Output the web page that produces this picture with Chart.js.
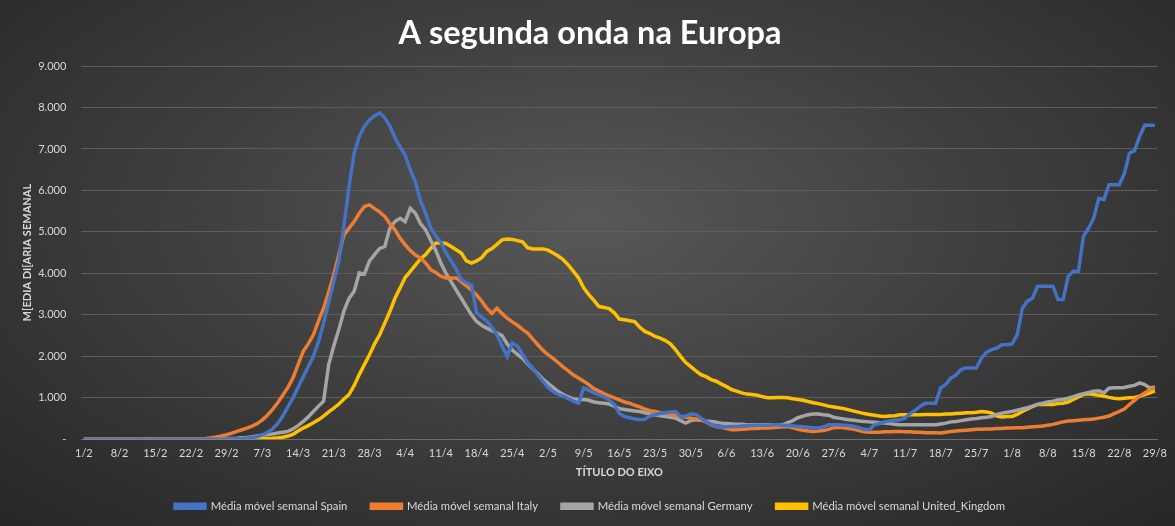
<!DOCTYPE html>
<html>
<head>
<meta charset="utf-8">
<script src="https://cdn.jsdelivr.net/npm/chart.js@4"></script>
<style>
  html, body { margin: 0; padding: 0; }
  body {
    width: 1175px; height: 526px; overflow: hidden;
    background: radial-gradient(ellipse 75% 85% at 50% 42%, #585858 0%, #3f3f3f 45%, #242424 100%);
  }
  #wrap { position: relative; width: 1175px; height: 526px; }
</style>
</head>
<body>
<div id="wrap"><canvas id="chart" width="1175" height="526"></canvas></div>
<script>
// months of 2020 shown on the axis: [month, last day shown]
const monthDays = [[2, 29], [3, 31], [4, 30], [5, 31], [6, 30], [7, 31], [8, 29]];

const seriesNames = [
    'Média móvel semanal Spain',
    'Média móvel semanal Italy',
    'Média móvel semanal Germany',
    'Média móvel semanal United_Kingdom'
];

const seriesColors = ['#4472C4', '#ED7D31', '#A5A5A5', '#FFC000'];

// one row per week, starting 1/2
const spain = [
    0, 0, 0, 0, 0, 0, 0,
    0, 0, 0, 0, 0, 0, 0,
    0, 0, 0, 0, 0, 0, 0,
    0, 0, 0, 1, 2, 3, 4,
    6, 10, 15, 20, 30, 45, 60,
    110, 170, 250, 380, 560, 780, 1000,
    1250, 1500, 1750, 2000, 2350, 2800, 3300,
    3800, 4300, 5150, 6100, 6900, 7300, 7550,
    7700, 7800, 7870, 7750, 7550, 7270, 7050,
    6850, 6500, 6200, 5750, 5450, 5100, 4900,
    4750, 4500, 4300, 4100, 3850, 3780, 3720,
    3050, 2950, 2850, 2700, 2520, 2250, 2000,
    2320, 2250, 2050, 1850, 1720, 1550, 1400,
    1250, 1150, 1080, 1040, 980, 920, 870,
    1240, 1180, 1120, 1080, 1020, 950, 840,
    620, 550, 520, 490, 470, 480, 560,
    600, 620, 640, 660, 670, 550, 560,
    610, 600, 510, 430, 360, 320, 290,
    300, 310, 310, 320, 330, 330, 340,
    340, 340, 350, 350, 340, 330, 320,
    310, 300, 290, 280, 270, 300, 350,
    350, 350, 340, 330, 310, 280, 240,
    230, 350, 380, 420, 440, 460, 470,
    510, 620, 700, 800, 870, 870, 870,
    1240, 1320, 1480, 1550, 1680, 1720, 1720,
    1720, 1960, 2100, 2160, 2200, 2280, 2280,
    2300, 2520, 3160, 3330, 3400, 3690, 3690,
    3690, 3690, 3370, 3370, 3930, 4050, 4050,
    4900, 5090, 5330, 5810, 5780, 6140, 6140,
    6140, 6400, 6900, 6960, 7300, 7570, 7570,
    7570
];

const italy = [
    0, 0, 0, 0, 0, 0, 0,
    0, 0, 0, 0, 0, 0, 0,
    0, 0, 0, 0, 0, 0, 0,
    2, 5, 10, 20, 35, 55, 80,
    110, 150, 190, 230, 270, 320, 380,
    470, 580, 720, 880, 1060, 1250, 1480,
    1800, 2120, 2300, 2520, 2850, 3160, 3550,
    3970, 4450, 4930, 5090, 5250, 5450, 5610,
    5650, 5560, 5480, 5370, 5200, 5050, 4850,
    4690, 4550, 4440, 4370, 4250, 4090, 4020,
    3930, 3890, 3890, 3890, 3800, 3700, 3600,
    3480, 3330, 3160, 3040, 3160, 3030, 2920,
    2830, 2750, 2650, 2560, 2420, 2280, 2150,
    2040, 1950, 1850, 1740, 1650, 1550, 1480,
    1400, 1320, 1220, 1160, 1100, 1050, 1000,
    950, 900, 870, 820, 780, 730, 690,
    670, 640, 620, 600, 580, 550, 530,
    510, 490, 470, 420, 350, 310, 290,
    260, 230, 230, 240, 250, 260, 260,
    270, 270, 280, 290, 300, 310, 280,
    240, 220, 200, 190, 200, 210, 240,
    280, 290, 280, 260, 240, 210, 180,
    170, 170, 170, 180, 180, 190, 190,
    180, 180, 170, 170, 160, 160, 160,
    150, 170, 190, 200, 210, 220, 230,
    240, 240, 250, 250, 260, 260, 270,
    270, 280, 280, 290, 300, 310, 320,
    340, 360, 390, 420, 440, 450, 460,
    470, 480, 490, 510, 530, 560, 620,
    670, 730, 840, 940, 1040, 1120, 1200,
    1240
];

const germany = [
    0, 0, 0, 0, 0, 0, 0,
    0, 0, 0, 0, 0, 0, 0,
    0, 0, 0, 0, 0, 0, 0,
    0, 0, 0, 0, 2, 5, 10,
    15, 20, 25, 35, 45, 60, 80,
    100, 115, 130, 150, 170, 190, 250,
    330, 430, 540, 670, 800, 920, 1800,
    2250, 2650, 3100, 3400, 3570, 4010, 3980,
    4300, 4450, 4600, 4650, 5090, 5250, 5330,
    5250, 5570, 5450, 5200, 5050, 4800, 4550,
    4250, 4000, 3800, 3600, 3400, 3200, 3000,
    2840, 2750, 2680, 2620, 2560, 2500, 2300,
    2150, 2050, 1950, 1820, 1700, 1580, 1450,
    1350, 1250, 1150, 1080, 1020, 970, 960,
    960, 940, 900, 880, 870, 850, 800,
    740, 720, 700, 680, 670, 640, 610,
    590, 570, 550, 530, 510, 450, 390,
    450, 470, 460, 440, 430, 410, 390,
    380, 370, 360, 360, 350, 350, 350,
    350, 350, 350, 350, 350, 400, 450,
    520, 560, 590, 610, 610, 590, 580,
    530, 510, 490, 470, 460, 440, 430,
    420, 410, 400, 390, 380, 360, 350,
    350, 350, 350, 350, 350, 350, 350,
    370, 390, 420, 430, 450, 470, 490,
    500, 520, 530, 550, 600, 630, 650,
    670, 700, 730, 760, 800, 840, 870,
    900, 920, 950, 960, 990, 1030, 1070,
    1100, 1130, 1160, 1170, 1120, 1230, 1240,
    1240, 1250, 1280, 1300, 1360, 1320, 1240,
    1260
];

const unitedKingdom = [
    0, 0, 0, 0, 0, 0, 0,
    0, 0, 0, 0, 0, 0, 0,
    0, 0, 0, 0, 0, 0, 0,
    0, 0, 0, 0, 0, 0, 0,
    0, 0, 1, 2, 3, 5, 8,
    12, 18, 25, 35, 50, 80, 120,
    200, 270, 330, 400, 470, 560, 660,
    750, 850, 970, 1080, 1300, 1560, 1800,
    2040, 2300, 2520, 2800, 3080, 3400, 3650,
    3900, 4050, 4200, 4350, 4450, 4600, 4730,
    4740, 4720, 4650, 4570, 4490, 4300, 4250,
    4300, 4380, 4530, 4600, 4700, 4810, 4830,
    4820, 4790, 4760, 4620, 4590, 4590, 4590,
    4560, 4490, 4420, 4330, 4200, 4050, 3890,
    3650, 3490, 3350, 3200, 3180, 3150, 3050,
    2900, 2880, 2860, 2840, 2700, 2600, 2550,
    2480, 2440, 2380, 2300, 2160, 2000, 1850,
    1750, 1650, 1560, 1510, 1440, 1400, 1330,
    1270, 1200, 1160, 1120, 1090, 1080, 1060,
    1030, 1000, 1000, 1010, 1010, 1000, 980,
    960, 940, 910, 880, 860, 830, 800,
    780, 760, 740, 710, 680, 650, 620,
    600, 580, 560, 550, 560, 570, 590,
    590, 590, 590, 590, 600, 600, 600,
    600, 610, 610, 620, 630, 640, 640,
    650, 670, 660, 630, 560, 540, 550,
    550, 600, 670, 730, 790, 840, 840,
    840, 840, 860, 870, 900, 960, 1020,
    1080, 1100, 1080, 1060, 1040, 1010, 990,
    980, 990, 1000, 1010, 1040, 1080, 1120,
    1170
];

const yTickStep = 1000;
const yMax = 9000;

// build day labels "d/m"
let categories = [];
monthDays.forEach(function (m) {
    for (let d = 1; d <= m[1]; d++) {
        categories.push(d + '/' + m[0]);
    }
});

const allSeries = [spain, italy, germany, unitedKingdom];

const TEXT_COLOR = '#d9d9d9';
const FONT = 'Lato, "Open Sans", sans-serif';

let ctx = document.getElementById('chart').getContext('2d');

let datasets = allSeries.map(function (values, i) {
    return {
        label: seriesNames[i],
        data: values,
        borderColor: seriesColors[i],
        backgroundColor: seriesColors[i],
        borderWidth: 3.5,
        pointRadius: 0,
        tension: 0,
        fill: false
    };
});

let myLineChart = new Chart(ctx, {
    type: 'line',
    data: {
        labels: categories,
        datasets: datasets
    },
    options: {
        responsive: false,
        animation: false,
        layout: {
            padding: { left: 21, right: 16, top: 4, bottom: 4 }
        },
        plugins: {
            title: {
                display: true,
                text: 'A segunda onda na Europa',
                color: '#ffffff',
                font: { family: FONT, size: 32.5, weight: 'bold' },
                padding: { top: 10, bottom: 13 }
            },
            legend: {
                position: 'bottom',
                labels: {
                    color: TEXT_COLOR,
                    font: { family: FONT, size: 11.3 },
                    boxWidth: 30,
                    boxHeight: 4,
                    padding: 24
                }
            },
            tooltip: { enabled: false }
        },
        scales: {
            x: {
                type: 'category',
                offset: true,
                grid: { display: false, drawTicks: false },
                border: { color: '#6e6e6e', width: 1 },
                ticks: {
                    color: TEXT_COLOR,
                    font: { family: FONT, size: 11 },
                    autoSkip: false,
                    maxRotation: 0,
                    padding: 8,
                    callback: function (value, index) {
                        return index % 7 === 0 ? this.getLabelForValue(value) : '';
                    }
                },
                title: {
                    display: true,
                    text: 'TÍTULO DO EIXO',
                    color: TEXT_COLOR,
                    font: { family: FONT, size: 11, weight: 'bold' },
                    padding: { top: -3, bottom: -2 }
                }
            },
            y: {
                min: 0,
                max: yMax,
                grid: { color: '#5e5e5e', lineWidth: 1, drawTicks: false },
                border: { display: false },
                ticks: {
                    stepSize: yTickStep,
                    color: TEXT_COLOR,
                    font: { family: FONT, size: 11 },
                    padding: 15,
                    callback: function (value) {
                        if (value === 0) return '-';
                        return value.toLocaleString('de-DE');
                    }
                },
                title: {
                    display: true,
                    text: 'M[EDIA DI[ARIA SEMANAL',
                    color: TEXT_COLOR,
                    font: { family: FONT, size: 11, weight: 'bold' },
                    padding: { top: 0, bottom: -11 }
                }
            }
        }
    }
});
</script>
</body>
</html>
